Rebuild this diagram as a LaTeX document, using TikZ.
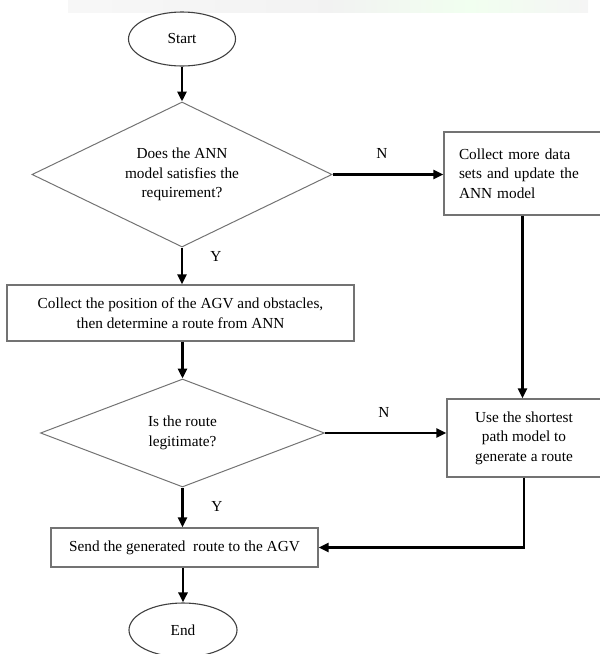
\documentclass[tikz,border=0pt]{standalone}
\usepackage{fontspec}
\setmainfont{Liberation Serif}
\usetikzlibrary{shapes.geometric,arrows.meta}
\begin{document}
\begin{tikzpicture}[x=1pt,y=-1pt,
  every node/.style={font=\fontsize{15.3}{19.5}\selectfont, text=black},
  term/.style={draw=black!75, line width=1.1pt, ellipse, minimum width=107pt, minimum height=54pt, inner sep=0pt},
  decision/.style={draw=black!55, line width=1pt, diamond, inner sep=0pt, align=center},
  procbox/.style={draw=black!55, line width=1.3pt, rectangle, inner sep=0pt, align=center},
  flow/.style={line width=2.5pt, -{Triangle[length=10pt,width=9pt]}},
  lbl/.style={inner sep=0pt}
]
\useasboundingbox (0,0) rectangle (600,654);
% faint watermark band at the top
\shade[left color=gray!6, right color=gray!10] (68,0) rectangle (330,12);
\shade[left color=gray!10, right color=yellow!10!green!6] (330,0) rectangle (470,12);
\shade[left color=yellow!10!green!6, right color=gray!8] (470,0) rectangle (588,12);

\node[term] (start) at (182,39) {Start};
\node[decision, minimum width=300pt, minimum height=145pt, aspect=2] (d1) at (182,174.5)
  {Does the ANN\\model satisfies the\\requirement?};
\node[procbox, minimum width=157pt, minimum height=83pt, text width=127pt, align=left] (box1) at (522.5,173.5)
  {Collect more data\\sets and update the\\ANN model};
\node[procbox, minimum width=347pt, minimum height=56pt] (boxA) at (180.5,313)
  {Collect the position of the AGV and obstacles,\\then determine a route from ANN};
\node[decision, minimum width=284pt, minimum height=108pt, aspect=2.6] (d2) at (182.5,433)
  {Is the route\\legitimate?};
\node[procbox, minimum width=154pt, minimum height=78pt] (box2) at (524,438)
  {Use the shortest\\path model to\\generate a route};
\node[procbox, minimum width=267pt, minimum height=39pt] (boxB) at (184.5,547.5)
  {Send the generated\ \ route to the AGV};
\node[term, minimum width=108pt] (end) at (183,630) {End};

\node[lbl] (n1) at (382,153) {N};
\node[lbl] (y1) at (216,256) {Y};
\node[lbl] (n2) at (384,412) {N};
\node[lbl] (y2) at (217,506) {Y};

\draw[flow] (start) -- (d1);
\draw[flow] (d1.south) -- (d1.south |- boxA.north);
\draw[flow] (d1.east) -- (d1.east -| box1.west);
\draw[flow] (box1.south) -- (box1.south |- box2.north);
\draw[flow] (boxA.south -| d2.north) -- (d2.north);
\draw[flow] (d2.east) -- (d2.east -| box2.west);
\draw[flow] (d2.south) -- (d2.south |- boxB.north);
\draw[flow] (box2.south) |- (boxB.east);
\draw[flow] (boxB.south -| end.north) -- (end.north);
\end{tikzpicture}
\end{document}
